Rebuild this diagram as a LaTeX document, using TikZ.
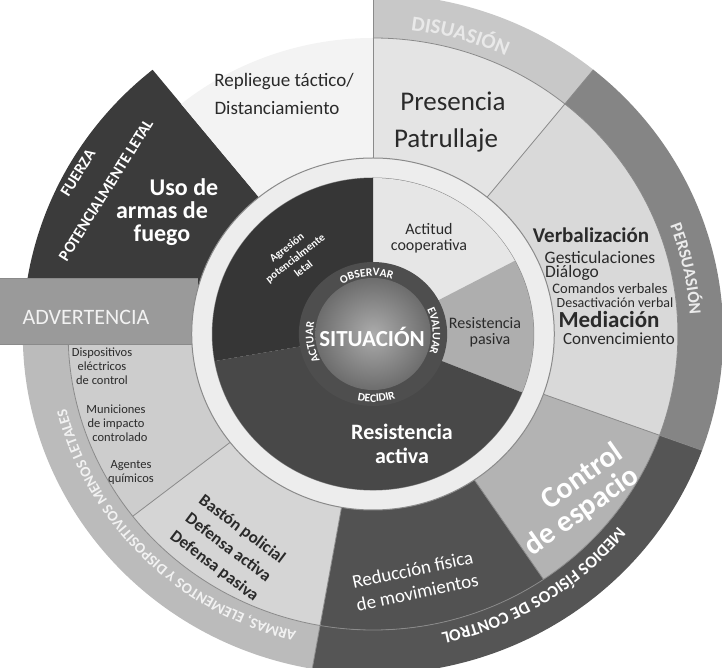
\documentclass[tikz,border=0pt]{standalone}
\usepackage{fontspec}
\setmainfont{Carlito}
\usetikzlibrary{decorations.text}
\def\kx{1.03}
\newcommand{\rsec}[5]{\fill[#1] (#2:{\kx*#4} and #4) arc[start angle=#2,end angle=#3,x radius={\kx*#4},y radius=#4] -- (#3:{\kx*#5} and #5) arc[start angle=#3,end angle=#2,x radius={\kx*#5},y radius=#5] -- cycle;}
\newcommand{\rline}[4]{\draw[#1] (#2:{\kx*#3} and #3) -- (#2:{\kx*#4} and #4);}
\newcommand{\rarc}[5]{\draw[#1] (#2:{\kx*#4} and #4) arc[start angle=#2,end angle=#3,x radius={\kx*#4},y radius=#4];}
\newcommand{\rtext}[6]{\path[decorate,decoration={text along path,text align=center,text color=#1,text={|#6|#5}}] (#2:{\kx*#4} and #4) arc[start angle=#2,end angle=#3,x radius={\kx*#4},y radius=#4];}
\newcommand{\fzRing}{\bfseries\fontsize{17}{17}\selectfont}
\newcommand{\fzNL}{\bfseries\fontsize{15}{15}\selectfont}
\newcommand{\fzDis}{\bfseries\fontsize{21}{21}\selectfont}
\newcommand{\fzWord}{\bfseries\fontsize{11.5}{11.5}\selectfont}
\definecolor{cRep}{HTML}{F3F3F3}
\definecolor{cPres}{HTML}{E4E4E4}
\definecolor{cVerb}{HTML}{D9D9D9}
\definecolor{cCtrl}{HTML}{B3B3B3}
\definecolor{cRed}{HTML}{525252}
\definecolor{cBast}{HTML}{D5D5D5}
\definecolor{cDisp}{HTML}{CDCDCD}
\definecolor{cArm}{HTML}{3B3B3B}
\definecolor{cDis}{HTML}{C8C8C8}
\definecolor{cPer}{HTML}{858585}
\definecolor{cMed}{HTML}{555555}
\definecolor{cNL}{HTML}{BBBBBB}
\definecolor{cAdv}{HTML}{9A9A9A}
\definecolor{cBand}{HTML}{EDEDED}
\definecolor{cAct}{HTML}{E6E6E6}
\definecolor{cPas}{HTML}{AEAEAE}
\definecolor{cActiva}{HTML}{484848}
\definecolor{cAgr}{HTML}{363636}
\definecolor{cRing}{HTML}{4E4E4E}
\definecolor{cBall}{HTML}{888888}
\definecolor{cTxt}{HTML}{2A2A2A}
\definecolor{cLine}{HTML}{8A8A8A}
\begin{document}
\begin{tikzpicture}[x=1pt,y=1pt,
  lbl/.style={inner sep=0pt,text=cTxt},
  wlbl/.style={inner sep=0pt,text=white},
  sep/.style={cLine,line width=0.8pt}]
\useasboundingbox (-373,-334) rectangle (349,334);
\begin{scope}
\clip (-373,-334) rectangle (349,334);
% outer label ring
\rsec{cDis}{51}{90}{296}{340}
\rsec{cPer}{-20}{51}{296}{340}
\rsec{cMed}{-100}{-20}{296}{340}
\rsec{cNL}{-185}{-100}{296}{340}
\rsec{cArm}{129}{176}{176}{340}
% outer sectors
\rsec{cRep}{90}{129}{176}{296}
\rsec{cPres}{51}{90}{176}{296}
\rsec{cVerb}{-20}{51}{176}{296}
\rsec{cCtrl}{-56}{-20}{176}{296}
\rsec{cRed}{-100}{-56}{176}{296}
\rsec{cBast}{-142}{-100}{176}{296}
\rsec{cDisp}{-185}{-142}{176}{296}
% separators
\rarc{sep}{90}{-185}{296}
\rarc{cArm!70!white,line width=0.6pt}{129}{176}{296}
\rline{sep}{90}{176}{340}
\rline{sep}{51}{176}{340}
\rline{sep}{-20}{176}{340}
\rline{sep}{-100}{176}{340}
\rline{sep}{-56}{176}{296}
\rline{sep}{-142}{176}{296}
% ADVERTENCIA box
\fill[cAdv] (-373,56) rectangle (-175,-10);
\draw[cLine,line width=0.6pt] (-373,56) -- (-175,56) (-373,-10) -- (-175,-10);
% band between middle disc and outer sectors
\fill[cBand] (0,0) ellipse[x radius={\kx*176},y radius=176];
\draw[cLine,line width=1pt] (0,0) ellipse[x radius={\kx*176},y radius=176];
\draw[cLine,line width=1pt] (0,0) ellipse[x radius={\kx*156},y radius=156];
% middle disc
\rsec{cAct}{28}{90}{0}{156}
\rsec{cPas}{-22}{28}{0}{156}
\rsec{cActiva}{-170}{-22}{0}{156}
\rsec{cAgr}{90}{190}{0}{156}
% situation ball
\fill[cRing] (0,0) ellipse[x radius={\kx*72},y radius=72];
\shade[inner color=cBall!70!white,outer color=cBall!80!black] (0,0) ellipse[x radius={\kx*56},y radius=56];
% ring texts
\rtext{cDis!40!white}{104}{44}{306}{DISUASIÓN}{\fzDis}
\rtext{white!92!black}{42}{-18}{308}{PERSUASIÓN}{\fzRing}
\rtext{white}{-18}{-98}{306}{MEDIOS FÍSICOS DE CONTROL}{\fzRing}
\rtext{white!95!black}{-100}{-170}{307}{ARMAS, ELEMENTOS Y DISPOSITIVOS MENOS LETALES}{\fzNL}
\rtext{white}{130}{62}{58}{OBSERVAR}{\fzWord}
\rtext{white}{36}{-30}{58}{EVALUAR}{\fzWord}
\rtext{white}{-122}{-52}{68}{DECIDIR}{\fzWord}
\rtext{white}{222}{154}{58}{ACTUAR}{\fzWord}
\end{scope}
% text nodes in image coordinates
\begin{scope}[shift={(-373,334)},y=-1pt]
\node[lbl,font=\fontsize{19}{21}\selectfont] (rep1) at (284,82) {Repliegue táctico/};
\node[lbl,font=\fontsize{19}{21}\selectfont] (rep2) at (277,108) {Distanciamiento};
\node[lbl,font=\fontsize{27}{29}\selectfont] (pres) at (453,101) {Presencia};
\node[lbl,font=\fontsize{27}{29}\selectfont] (patr) at (446,140) {Patrullaje};
\node[lbl,font=\bfseries\fontsize{21}{23}\selectfont] (verb) at (591,235) {Verbalización};
\node[lbl,font=\fontsize{17.5}{20}\selectfont] (gest) at (600,257) {Gesticulaciones};
\node[lbl,font=\fontsize{17.5}{20}\selectfont] (dial) at (572,273) {Diálogo};
\node[lbl,font=\fontsize{14.5}{17}\selectfont] (coma) at (610,289) {Comandos verbales};
\node[lbl,font=\fontsize{14}{16}\selectfont] (desa) at (615,303) {Desactivación verbal};
\node[lbl,font=\bfseries\fontsize{23}{25}\selectfont] (medi) at (609,320) {Mediación};
\node[lbl,font=\fontsize{17}{19}\selectfont] (conv) at (619,339) {Convencimiento};
\node[lbl,font=\fontsize{16}{16}\selectfont,align=center] (act) at (429,238) {Actitud\\cooperativa};
\node[lbl,font=\fontsize{16}{16}\selectfont,align=center] (pas) at (485,332) {Resistencia\\\hspace*{10pt}pasiva};
\node[wlbl,font=\bfseries\fontsize{22}{24}\selectfont,align=center] (ra) at (402,444) {Resistencia\\activa};
\node[wlbl,font=\bfseries\fontsize{11}{13.5}\selectfont,rotate=38,align=center] (agr) at (295,258) {Agresión\\potencialmente\\letal};
\node[wlbl,font=\bfseries\fontsize{23}{25}\selectfont] (sit) at (372,337) {SITUACIÓN};
\node[wlbl,font=\bfseries\fontsize{30}{28}\selectfont,rotate=35,align=right] (ctl) at (574,500) {Control\\de espacio};
\node[wlbl,font=\fontsize{19}{23}\selectfont,rotate=12,align=center] (red) at (415,581) {Reducción física\\de movimientos};
\node[lbl,font=\bfseries\fontsize{17}{23}\selectfont,rotate=-37,align=center] (bas) at (228,548) {Bastón policial\\Defensa activa\\Defensa pasiva};
\node[lbl,font=\fontsize{12.5}{14}\selectfont,align=center] (dis) at (102,366) {Dispositivos\\eléctricos\\de control};
\node[lbl,font=\fontsize{12.5}{14}\selectfont,align=center] (mun) at (116,423) {Municiones\\de impacto\\\hspace*{8pt}controlado};
\node[lbl,font=\fontsize{12.5}{14}\selectfont,align=center] (age) at (131,472) {Agentes\\químicos};
\node[wlbl,font=\bfseries\fontsize{24}{23}\selectfont,align=center] (uso) at (162,212) {\hspace*{44pt}Uso de\\armas de\\fuego};
\node[wlbl,font=\bfseries\fontsize{16}{18}\selectfont,rotate=58] (fz1) at (78,173) {FUERZA};
\node[wlbl,font=\bfseries\fontsize{16}{18}\selectfont,rotate=58] (fz2) at (106,190) {POTENCIALMENTE LETAL};
\node[inner sep=0pt,text=white!95!black,font=\fontsize{22}{24}\selectfont] (adv) at (86,317) {ADVERTENCIA};
\end{scope}
\end{tikzpicture}
\end{document}
